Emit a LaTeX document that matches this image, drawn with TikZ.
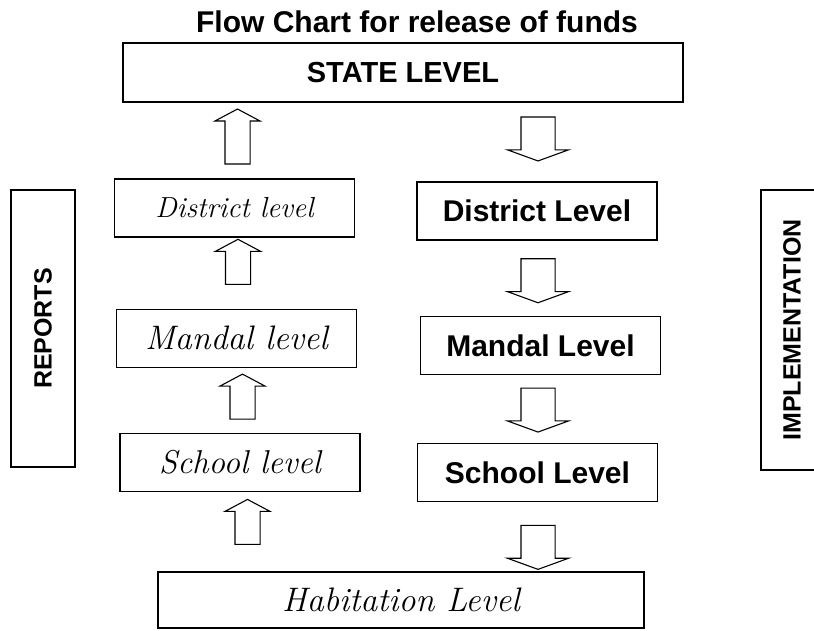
\documentclass[tikz,border=0pt]{standalone}
\usepackage{fontspec}
\newfontfamily\headfont{Liberation Sans}
\usetikzlibrary{shapes.arrows,positioning,calc}

\begin{document}
\begin{tikzpicture}[
    x=1pt, y=1pt,
    level/.style={rectangle, draw, line width=1.3pt, inner sep=0pt, text centered},
    fundbox/.style={level, minimum width=240pt, minimum height=58pt, font=\headfont\bfseries\fontsize{30}{35}\selectfont},
    reportbox/.style={level, minimum width=240pt, minimum height=58pt, font=\itshape\fontsize{#1}{#1}\selectfont},
    reportbox/.default=29,
    sidebox/.style={level, rotate=90, minimum height=64pt, font=\headfont\bfseries\fontsize{25}{30}\selectfont},
    uparrow/.style={single arrow, draw, line width=1.1pt, inner sep=12pt, shape border rotate=90, minimum height=45pt, single arrow head extend=10pt, single arrow tip angle=124},
    downarrow/.style={single arrow, draw, line width=1.1pt, inner sep=16.5pt, shape border rotate=270, minimum height=44pt, single arrow head extend=13.5pt, single arrow tip angle=140}
]
\useasboundingbox (0,0) rectangle (814,-630);

\node (title) [anchor=base, font=\headfont\bfseries\fontsize{30}{35}\selectfont] at (417,-32) {Flow Chart for release of funds};
\node (state) [fundbox, minimum width=560pt, minimum height=59pt, font=\headfont\bfseries\fontsize{29}{34}\selectfont] at (403,-72.5) {STATE LEVEL};

% reports side
\node (ldistrict) [reportbox] at (234.5,-208) {District level};
\node (lmandal) [reportbox=34, below=71pt of ldistrict, xshift=2pt] {Mandal level};
\node (lschool) [reportbox=33, below=65pt of lmandal, xshift=3.5pt] {School level};

% funds side
\node (rdistrict) [fundbox] at (537,-211) {District Level};
\node (rmandal) [fundbox, below=75pt of rdistrict, xshift=3.5pt] {Mandal Level};
\node (rschool) [fundbox, below=68pt of rmandal, xshift=-3pt] {School Level};

\node (habitation) [reportbox=34, minimum width=486pt, minimum height=56pt] at (401,-600) {Habitation Level};

\node (reports) [sidebox, minimum width=277pt] at (43,-328.5) {REPORTS};
\node (impl) [sidebox, minimum width=280pt, minimum height=62pt] at (792,-330) {IMPLEMENTATION};

% Arrows
\node (up1) [uparrow, minimum height=55pt] at ($(ldistrict.north)+(3,38.5)$) {};
\node (up2) [uparrow] at ($(lmandal.north)+(1.5,43.5)$) {};
\node (up3) [uparrow] at ($(lschool.north)+(2.5,33)$) {};
\node (up4) [uparrow] at ($(lschool.south)+(7.5,-33)$) {};

\node (down1) [downarrow] at ($(rdistrict.north)+(1,45.5)$) {};
\node (down2) [downarrow] at ($(rdistrict.south)+(1,-37)$) {};
\node (down3) [downarrow] at ($(rmandal.south)+(-2.5,-32)$) {};
\node (down4) [downarrow] at ($(rschool.south)+(0.5,-42)$) {};

\end{tikzpicture}
\end{document}
